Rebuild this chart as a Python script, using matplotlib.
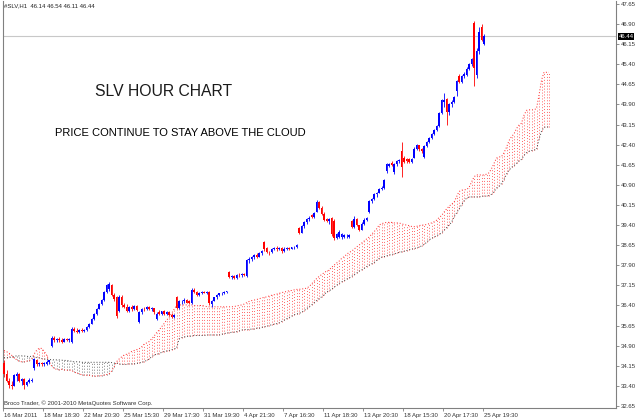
import numpy as np
import matplotlib.pyplot as plt
import matplotlib.transforms as mtransforms

plt.rcParams['font.family'] = ['Liberation Sans', 'DejaVu Sans']

# hourly candles, SLV, 16 Mar - 25 Apr 2011
opens = [34.25, 33.85, 33.60, 33.45, 33.40, 33.78, 33.85, 33.60, 33.65, 33.45,
         33.55, 33.60, 34.05, 34.35, 34.20, 34.25, 34.20, 34.22, 34.28, 34.90,
         35.20, 35.10, 35.15, 35.12, 35.05, 35.15, 35.10, 35.05, 35.52, 35.45,
         35.42, 35.48, 35.45, 35.48, 35.60, 35.72, 35.88, 36.08, 36.28, 36.45,
         36.60, 36.90, 37.00, 37.15, 36.80, 36.70, 36.20, 36.72, 36.40, 36.35,
         36.20, 36.35, 36.25, 36.38, 35.80, 36.15, 36.28, 36.25, 36.35, 36.25,
         36.30, 35.88, 36.15, 36.08, 36.18, 36.08, 36.15, 36.05, 35.98, 36.70,
         36.32, 36.55, 36.58, 36.62, 36.58, 36.48, 36.98, 36.92, 36.80, 36.88,
         36.90, 36.88, 36.92, 36.45, 36.58, 36.70, 36.78, 36.85, 36.88, 36.90,
         37.65, 37.45, 37.50, 37.42, 37.55, 37.52, 37.58, 37.50, 38.08, 38.15,
         38.20, 38.28, 38.22, 38.35, 38.75, 38.55, 38.40, 38.38, 38.52, 38.56,
         38.50, 38.56, 38.45, 38.52, 38.55, 38.52, 38.57, 38.58, 39.30, 39.12,
         39.38, 39.50, 39.62, 39.78, 39.70, 39.90, 40.25, 40.05, 39.82, 39.62,
         39.55, 39.65, 39.55, 38.92, 38.95, 38.95, 38.95, 38.98, 38.96, 39.55,
         39.32, 39.62, 39.40, 39.22, 39.45, 39.58, 39.88, 40.28, 40.38, 40.55,
         40.60, 40.75, 40.80, 41.40, 41.60, 41.72, 41.38, 41.68, 41.78, 42.15,
         41.90, 41.88, 41.85, 41.76, 41.92, 42.25, 42.38, 42.22, 41.95, 42.36,
         42.50, 42.64, 42.78, 42.95, 43.08, 43.58, 44.00, 44.10, 43.60, 43.90,
         44.00, 44.40, 44.98, 44.75, 44.95, 45.00, 45.22, 45.40, 46.95, 45.00,
         45.90, 46.80, 46.14]
highs = [34.35, 34.00, 33.70, 33.60, 33.85, 33.90, 33.88, 33.70, 33.68, 33.60,
         33.70, 33.68, 34.45, 34.40, 34.30, 34.30, 34.28, 34.35, 34.38, 35.25,
         35.25, 35.20, 35.22, 35.20, 35.18, 35.20, 35.20, 35.58, 35.58, 35.55,
         35.52, 35.55, 35.52, 35.62, 35.76, 35.92, 36.12, 36.32, 36.50, 36.65,
         36.95, 37.20, 37.28, 37.20, 36.88, 36.75, 36.80, 36.78, 36.50, 36.45,
         36.38, 36.40, 36.42, 36.42, 36.20, 36.32, 36.35, 36.38, 36.38, 36.35,
         36.32, 36.15, 36.22, 36.20, 36.22, 36.20, 36.18, 36.12, 36.10, 36.75,
         36.60, 36.62, 36.68, 36.65, 36.60, 37.05, 37.05, 36.95, 36.92, 36.95,
         36.95, 36.95, 36.95, 36.62, 36.72, 36.82, 36.88, 36.90, 36.95, 36.95,
         37.70, 37.55, 37.55, 37.58, 37.60, 37.62, 37.62, 38.12, 38.22, 38.25,
         38.32, 38.36, 38.38, 38.48, 38.82, 38.60, 38.45, 38.55, 38.60, 38.62,
         38.60, 38.60, 38.58, 38.58, 38.58, 38.60, 38.62, 38.70, 39.32, 39.42,
         39.55, 39.65, 39.72, 39.80, 39.88, 40.32, 40.28, 40.12, 39.88, 39.68,
         39.68, 39.70, 39.62, 39.10, 39.20, 39.12, 39.05, 39.05, 39.05, 39.60,
         39.72, 39.65, 39.42, 39.50, 39.65, 39.70, 40.32, 40.42, 40.58, 40.65,
         40.78, 40.85, 41.12, 41.72, 41.72, 41.78, 41.72, 41.82, 41.85, 42.50,
         41.98, 41.92, 41.90, 41.92, 42.30, 42.42, 42.40, 42.28, 42.40, 42.55,
         42.68, 42.82, 42.98, 43.12, 43.62, 44.10, 44.32, 44.15, 43.95, 44.05,
         44.22, 44.82, 45.05, 45.00, 45.10, 45.28, 45.45, 45.62, 47.00, 46.00,
         46.80, 46.90, 46.54]
lows = [33.75, 33.55, 33.32, 33.28, 33.38, 33.60, 33.55, 33.45, 33.30, 33.40,
        33.50, 33.55, 34.00, 34.15, 34.15, 34.15, 34.15, 34.18, 34.22, 34.85,
        35.05, 35.05, 35.05, 35.00, 35.02, 35.08, 35.05, 35.00, 35.40, 35.38,
        35.38, 35.40, 35.40, 35.45, 35.55, 35.70, 35.85, 36.05, 36.25, 36.40,
        36.55, 36.85, 36.95, 36.75, 36.55, 35.95, 36.15, 36.35, 36.30, 36.15,
        36.15, 36.20, 36.22, 36.20, 35.75, 36.10, 36.20, 36.22, 36.22, 36.18,
        36.10, 35.85, 36.05, 36.05, 36.05, 36.05, 36.00, 35.92, 35.95, 36.28,
        36.28, 36.45, 36.50, 36.48, 36.45, 36.45, 36.85, 36.75, 36.75, 36.82,
        36.85, 36.82, 36.40, 36.35, 36.55, 36.65, 36.75, 36.80, 36.82, 36.85,
        37.42, 37.40, 37.38, 37.40, 37.45, 37.48, 37.50, 37.48, 38.00, 38.05,
        38.15, 38.18, 38.20, 38.30, 38.45, 38.35, 38.30, 38.35, 38.48, 38.45,
        38.48, 38.35, 38.40, 38.48, 38.48, 38.50, 38.52, 38.55, 39.05, 39.10,
        39.30, 39.45, 39.55, 39.68, 39.65, 39.88, 40.00, 39.78, 39.55, 39.50,
        39.45, 39.00, 38.85, 38.88, 38.90, 38.88, 38.92, 38.92, 38.92, 39.28,
        39.30, 39.35, 39.18, 39.20, 39.42, 39.55, 39.85, 40.22, 40.35, 40.45,
        40.58, 40.70, 40.75, 41.35, 41.55, 41.62, 41.32, 41.60, 41.70, 41.20,
        41.70, 41.72, 41.72, 41.72, 41.90, 42.20, 42.18, 42.10, 41.92, 42.32,
        42.45, 42.60, 42.75, 42.90, 43.05, 43.55, 43.80, 43.12, 43.50, 43.80,
        43.95, 44.20, 44.70, 44.70, 44.90, 44.95, 45.18, 45.35, 44.58, 44.90,
        45.80, 46.25, 46.11]
closes = [33.85, 33.60, 33.45, 33.40, 33.80, 33.85, 33.60, 33.65, 33.45, 33.55,
          33.62, 33.63, 34.40, 34.20, 34.25, 34.20, 34.25, 34.30, 34.35, 35.20,
          35.10, 35.15, 35.12, 35.05, 35.15, 35.12, 35.15, 35.52, 35.45, 35.42,
          35.48, 35.45, 35.48, 35.60, 35.72, 35.88, 36.08, 36.28, 36.45, 36.60,
          36.90, 37.15, 37.20, 36.80, 36.65, 36.02, 36.72, 36.40, 36.35, 36.20,
          36.35, 36.25, 36.38, 36.22, 36.15, 36.28, 36.25, 36.35, 36.25, 36.30,
          36.15, 36.10, 36.08, 36.18, 36.08, 36.15, 36.05, 35.98, 36.05, 36.32,
          36.55, 36.58, 36.62, 36.50, 36.48, 36.98, 36.92, 36.80, 36.88, 36.90,
          36.88, 36.92, 36.50, 36.58, 36.70, 36.78, 36.85, 36.88, 36.90, 36.92,
          37.45, 37.50, 37.42, 37.55, 37.52, 37.58, 37.55, 38.08, 38.15, 38.20,
          38.28, 38.22, 38.35, 38.45, 38.50, 38.40, 38.38, 38.52, 38.56, 38.50,
          38.56, 38.45, 38.52, 38.55, 38.52, 38.57, 38.60, 38.67, 39.12, 39.38,
          39.50, 39.62, 39.68, 39.70, 39.85, 40.25, 40.05, 39.82, 39.60, 39.55,
          39.62, 39.05, 38.92, 39.05, 39.15, 39.05, 39.02, 39.00, 39.03, 39.32,
          39.62, 39.40, 39.22, 39.45, 39.60, 39.66, 40.28, 40.38, 40.55, 40.60,
          40.75, 40.80, 41.08, 41.68, 41.68, 41.65, 41.68, 41.78, 41.82, 41.55,
          41.75, 41.78, 41.76, 41.88, 42.25, 42.38, 42.22, 42.15, 42.36, 42.50,
          42.64, 42.78, 42.95, 43.08, 43.58, 44.05, 44.05, 43.60, 43.90, 44.00,
          44.18, 44.78, 44.75, 44.95, 45.05, 45.22, 45.40, 45.58, 45.25, 45.90,
          46.60, 46.32, 46.44]

# ichimoku cloud edges (26 bars ahead of price)
span_a = [34.72, 34.68, 34.62, 34.55, 34.45, 34.38, 34.32, 34.30, 34.30, 34.32,
          34.34, 34.40, 34.58, 34.72, 34.80, 34.80, 34.70, 34.55, 34.32, 34.15,
          34.05, 34.02, 34.00, 34.02, 34.00, 33.98, 34.00, 33.98, 33.92, 33.88,
          33.85, 33.82, 33.80, 33.80, 33.80, 33.78, 33.76, 33.76, 33.78, 33.78,
          33.80, 33.82, 33.85, 33.95, 34.10, 34.30, 34.40, 34.48, 34.55, 34.58,
          34.62, 34.68, 34.72, 34.75, 34.78, 34.85, 34.95, 35.00, 35.05, 35.15,
          35.25, 35.38, 35.48, 35.60, 35.72, 35.85, 35.95, 36.10, 36.25, 36.40,
          36.42, 36.42, 36.42, 36.42, 36.40, 36.42, 36.40, 36.38, 36.40, 36.40,
          36.38, 36.36, 36.35, 36.35, 36.35, 36.35, 36.35, 36.35, 36.35, 36.35,
          36.35, 36.35, 36.36, 36.38, 36.40, 36.42, 36.45, 36.50, 36.55, 36.58,
          36.60, 36.62, 36.65, 36.68, 36.70, 36.72, 36.75, 36.78, 36.80, 36.82,
          36.85, 36.88, 36.90, 36.92, 36.95, 36.96, 36.98, 37.00, 37.00, 37.02,
          37.02, 37.05, 37.10, 37.20, 37.30, 37.40, 37.48, 37.55, 37.62, 37.68,
          37.72, 37.82, 37.90, 37.98, 38.05, 38.15, 38.22, 38.30, 38.38, 38.42,
          38.50, 38.58, 38.65, 38.72, 38.80, 38.88, 38.95, 39.05, 39.15, 39.25,
          39.40, 39.45, 39.48, 39.50, 39.50, 39.50, 39.48, 39.48, 39.48, 39.45,
          39.42, 39.40, 39.38, 39.35, 39.34, 39.35, 39.38, 39.40, 39.40, 39.42,
          39.45, 39.48, 39.52, 39.58, 39.68, 39.75, 39.88, 40.00, 40.10, 40.18,
          40.25, 40.45, 40.65, 40.70, 40.72, 40.72, 40.80, 41.00, 41.20, 41.27,
          41.27, 41.27, 41.27, 41.30, 41.35, 41.50, 41.70, 41.90, 41.94, 41.95,
          42.10, 42.30, 42.55, 42.70, 42.80, 43.00, 43.13, 43.20, 43.50, 43.68,
          43.70, 43.70, 43.70, 43.75, 44.25, 44.80, 45.10, 45.10, 45.10]
span_b = [34.45, 34.45, 34.46, 34.48, 34.50, 34.52, 34.52, 34.52, 34.52, 34.50,
          34.50, 34.50, 34.48, 34.46, 34.45, 34.42, 34.40, 34.40, 34.38, 34.38,
          34.37, 34.37, 34.37, 34.36, 34.35, 34.35, 34.33, 34.32, 34.30, 34.30,
          34.30, 34.28, 34.28, 34.28, 34.28, 34.28, 34.28, 34.28, 34.28, 34.28,
          34.28, 34.28, 34.28, 34.27, 34.25, 34.25, 34.22, 34.20, 34.20, 34.20,
          34.22, 34.22, 34.22, 34.24, 34.25, 34.28, 34.30, 34.35, 34.40, 34.48,
          34.55, 34.58, 34.60, 34.65, 34.68, 34.70, 34.72, 34.75, 34.78, 34.80,
          35.15, 35.20, 35.22, 35.25, 35.25, 35.26, 35.28, 35.28, 35.28, 35.28,
          35.28, 35.30, 35.30, 35.30, 35.30, 35.30, 35.30, 35.32, 35.35, 35.37,
          35.38, 35.40, 35.40, 35.42, 35.45, 35.48, 35.50, 35.50, 35.50, 35.52,
          35.52, 35.55, 35.55, 35.58, 35.60, 35.62, 35.65, 35.68, 35.70, 35.72,
          35.75, 35.80, 35.85, 35.90, 35.95, 36.00, 36.05, 36.08, 36.10, 36.15,
          36.20, 36.28, 36.35, 36.42, 36.50, 36.58, 36.65, 36.72, 36.80, 36.90,
          36.95, 37.00, 37.08, 37.15, 37.22, 37.28, 37.32, 37.38, 37.42, 37.48,
          37.55, 37.60, 37.68, 37.72, 37.78, 37.85, 37.90, 37.95, 38.00, 38.08,
          38.15, 38.20, 38.22, 38.25, 38.28, 38.30, 38.32, 38.35, 38.38, 38.40,
          38.42, 38.45, 38.48, 38.50, 38.52, 38.55, 38.58, 38.62, 38.68, 38.75,
          38.85, 38.90, 38.95, 39.00, 39.05, 39.10, 39.20, 39.30, 39.40, 39.50,
          39.70, 39.85, 40.00, 40.15, 40.30, 40.40, 40.45, 40.45, 40.45, 40.45,
          40.45, 40.47, 40.48, 40.48, 40.50, 40.55, 40.65, 40.78, 40.85, 40.95,
          41.10, 41.30, 41.45, 41.55, 41.62, 41.70, 41.80, 41.85, 42.00, 42.10,
          42.15, 42.18, 42.20, 42.22, 42.60, 42.90, 43.05, 43.06, 43.06]

date_labels = ['16 Mar 2011', '18 Mar 18:30', '22 Mar 20:30', '25 Mar 15:30',
               '29 Mar 17:30', '31 Mar 19:30', '4 Apr 21:30', '7 Apr 16:30',
               '11 Apr 18:30', '13 Apr 20:30', '18 Apr 15:30', '20 Apr 17:30',
               '25 Apr 19:30']
label_bars = [0, 16, 32, 48, 64, 80, 96, 112, 128, 144, 160, 176, 192]
price_ticks = [32.65, 33.40, 34.15, 34.90, 35.65, 36.40, 37.15, 37.90, 38.65,
               39.40, 40.15, 40.90, 41.65, 42.40, 43.15, 43.90, 44.65, 45.40,
               46.15, 46.90, 47.65]

o = np.array(opens)
h = np.array(highs)
l = np.array(lows)
c = np.array(closes)
idx = np.arange(len(c))
cols = np.where(c >= o, '#0000ff', '#ff0000')

fig = plt.figure(figsize=(6.4, 4.19), dpi=100)
ax = fig.add_axes([3/640, 11/419, 613/640, 407/419])
ax.set_xlim(-0.4, 244.8)
ax.set_ylim(32.575, 47.76)

# cloud: dotted vertical strokes between the two spans
a = np.array(span_a)
b = np.array(span_b)
ci = np.arange(len(a))
bull = a >= b
dots = (0, (1, 2))
ax.vlines(ci[bull], b[bull], a[bull], colors='#ff4d4d', linestyles=dots, lw=0.7, alpha=0.85)
ax.vlines(ci[~bull], a[~bull], b[~bull], colors='#6a6a6a', linestyles=dots, lw=0.7, alpha=0.85)
ax.plot(ci, a, color='#ff2020', ls=dots, lw=0.7)
ax.plot(ci, b, color='#404040', ls=dots, lw=0.7)

# bid line
ax.axhline(c[-1], color='#c8c8c8', lw=0.8, zorder=0)

# candles
ax.vlines(idx, l, h, colors=cols, lw=0.6, zorder=3)
body_lo = np.minimum(o, c)
body_h = np.maximum(np.abs(c - o), 0.025)
ax.bar(idx, body_h, bottom=body_lo, width=0.72, color=cols, linewidth=0, zorder=4)

# axes look
for s in ['left', 'right', 'bottom']:
    ax.spines[s].set_color('#808080')
    ax.spines[s].set_linewidth(0.8)
ax.spines['top'].set_visible(False)

ax.yaxis.tick_right()
ax.set_yticks(price_ticks)
ax.set_yticklabels(['%.2f' % v for v in price_ticks])
ax.tick_params(axis='y', direction='out', length=2.2, width=0.6, pad=1.5,
               labelsize=4.3, colors='#808080', labelcolor='#333333')

ax.set_xticks(np.array(label_bars) - 0.4)
ax.set_xticklabels(date_labels, ha='left')
ax.tick_params(axis='x', direction='out', length=2.5, width=0.6, pad=1,
               labelsize=4.3, colors='#808080', labelcolor='#333333')
shift = mtransforms.ScaledTranslation(1.5 / 100, 0, fig.dpi_scale_trans)
for lab in ax.get_xticklabels():
    lab.set_transform(lab.get_transform() + shift)

# last price box
ax.text(1.004, c[-1], '%.2f' % c[-1], transform=ax.get_yaxis_transform(),
        ha='left', va='center', fontsize=4.3, color='white', clip_on=False,
        bbox=dict(boxstyle='square,pad=0.15', fc='black', ec='none'), zorder=6)

header = '#SLV,H1  %.2f %.2f %.2f %.2f' % (o[-1], h[-1], l[-1], c[-1])
fig.text(4/640, 1 - 6/419, header, fontsize=4.3, va='center', color='#222222')
fig.text(95/640, 1 - 92/419, 'SLV HOUR CHART', fontsize=11.3, va='center', color='#1a1a1a')
fig.text(55/640, 1 - 133.5/419, 'PRICE CONTINUE TO STAY ABOVE THE CLOUD',
         fontsize=8, va='center', color='black')
fig.text(4/640, 1 - 403/419, 'Broco Trader, \u00a9 2001-2010 MetaQuotes Software Corp.',
         fontsize=4.3, va='center', color='#333333')

fig.savefig('out.png', dpi=100)
